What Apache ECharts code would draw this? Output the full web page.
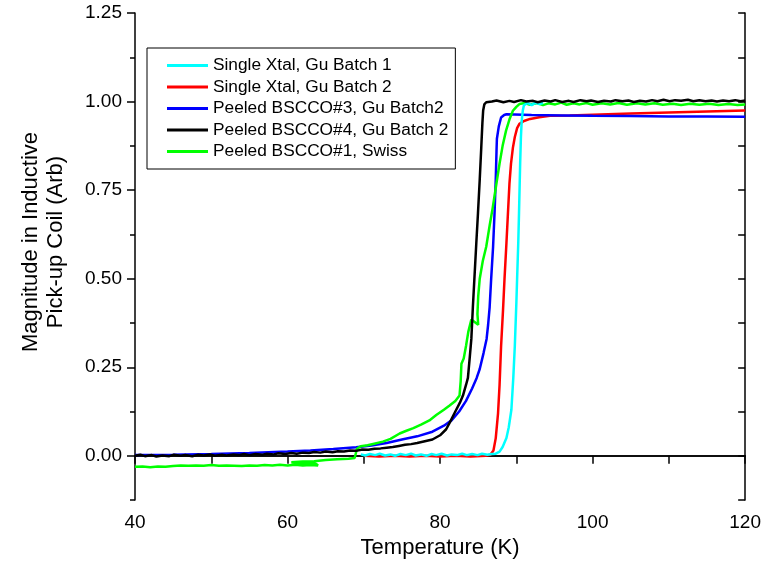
<!DOCTYPE html>
<html>
<head>
<meta charset="utf-8">
<script src="https://cdn.jsdelivr.net/npm/echarts@6/dist/echarts.min.js"></script>
<style>html,body{margin:0;padding:0;background:#fff}#c{width:764px;height:564px}</style>
</head>
<body>
<div id="c"></div>
<script>
const seriesNames = ['Single Xtal, Gu Batch 1','Single Xtal, Gu Batch 2','Peeled BSCCO#3, Gu Batch2','Peeled BSCCO#4, Gu Batch 2','Peeled BSCCO#1, Swiss'];
const seriesColors = ['#00ffff','#ff0000','#0000ff','#000000','#00ff00'];
const yTickLabels = [0, 0.25, 0.5, 0.75, 1.0, 1.25];

const singleXtalGu1 = [[69.6,0.004],[70.2,0.001],[70.8,0.005],[71.5,0.002],[72.1,0.006],[72.8,0.001],[73.5,0.004],[74.1,0.0],[74.8,0.005],[75.5,0.002],[76.2,0.006],[76.8,0.001],[77.5,0.004],[78.2,0.0],[78.9,0.005],[79.5,0.002],[80.2,0.006],[80.9,0.001],[81.5,0.004],[82.2,0.002],[82.9,0.006],[83.5,0.002],[84.2,0.005],[84.9,0.002],[85.5,0.006],[86.2,0.003],[86.8,0.005],[87.3,0.006],[87.8,0.012],[88.2,0.025],[88.7,0.05],[89.0,0.08],[89.35,0.13],[89.6,0.22],[89.8,0.31],[90.0,0.43],[90.1,0.50],[90.25,0.6],[90.35,0.685],[90.5,0.825],[90.6,0.9],[90.7,0.945],[90.85,0.975],[91.0,0.99],[91.5,0.996],[92,0.99],[92.5,0.997],[93,0.993],[93.5,0.996]];

const singleXtalGu2 = [[70,0.0],[72,-0.002],[74,0.0],[76,-0.002],[78,0.0],[80,-0.002],[82,0.0],[84,-0.002],[86,0.0],[86.6,0.003],[87.0,0.015],[87.3,0.05],[87.6,0.12],[87.8,0.2],[88.0,0.31],[88.25,0.41],[88.45,0.50],[88.7,0.6],[88.9,0.685],[89.1,0.77],[89.3,0.825],[89.55,0.87],[89.8,0.90],[90.1,0.925],[90.4,0.937],[91,0.945],[91.8,0.951],[93,0.956],[94.4,0.96],[97,0.961],[100,0.963],[105,0.966],[110,0.969],[115,0.972],[120,0.975]];

const peeled3 = [[40,0.002],[45,0.003],[50,0.005],[55,0.008],[60,0.012],[63,0.015],[66,0.019],[69,0.024],[71,0.029],[73,0.036],[75,0.046],[77,0.055],[79,0.068],[80.5,0.085],[81.5,0.1],[82.5,0.125],[83.4,0.155],[84.2,0.19],[84.8,0.22],[85.2,0.245],[85.7,0.29],[86.1,0.33],[86.3,0.37],[86.5,0.42],[86.7,0.5],[86.95,0.59],[87.15,0.69],[87.3,0.78],[87.4,0.86],[87.45,0.895],[87.6,0.9],[87.7,0.93],[88.0,0.955],[88.4,0.962],[88.7,0.964],[92,0.962],[96,0.961],[100,0.96],[105,0.959],[110,0.958],[115,0.958],[120,0.957]];

const peeled4 = [[40,0.0],[40.7,0.003],[41.3,-0.001],[42.2,0.002],[42.8,-0.002],[43.6,0.001],[44.5,-0.001],[45.1,0.003],[46,0.0],[46.6,0.002],[47.5,-0.001],[48.3,0.003],[49,0.001],[49.8,0.004],[50.5,0.0],[51.4,0.003],[52,0.001],[52.9,0.004],[53.6,0.002],[54.3,0.005],[55,0.002],[55.8,0.005],[56.7,0.003],[57.3,0.006],[58.2,0.004],[58.8,0.007],[59.7,0.005],[60.5,0.008],[61.2,0.006],[62,0.009],[62.8,0.008],[63.5,0.011],[64.3,0.009],[65,0.012],[65.9,0.01],[66.6,0.013],[67.4,0.012],[68.2,0.015],[69,0.014],[69.8,0.018],[70.6,0.017],[71.4,0.02],[72.2,0.021],[73,0.023],[73.8,0.025],[74.6,0.028],[75.4,0.031],[76.2,0.033],[77,0.036],[78,0.041],[79,0.046],[80,0.058],[80.8,0.075],[81.3,0.095],[82,0.125],[82.6,0.15],[83.0,0.17],[83.4,0.2],[83.65,0.22],[83.9,0.28],[84.1,0.33],[84.3,0.42],[84.5,0.5],[84.75,0.6],[84.97,0.685],[85.2,0.78],[85.4,0.87],[85.55,0.94],[85.65,0.975],[85.8,0.992],[86.05,0.998],[86.8,1.0],[87.4,1.003],[88.3,0.998],[89.1,1.002],[89.7,0.999],[90.6,1.004],[91.3,1.0],[92.2,1.002],[92.8,0.998],[93.7,1.003],[94.5,1.0],[95.1,1.004],[96,0.999],[96.9,1.002],[97.5,0.999],[98.4,1.004],[99.2,1.001],[99.8,1.003],[100.7,0.999],[101.5,1.002],[102.4,1.0],[103,1.004],[103.9,1.001],[104.7,1.003],[105.4,0.999],[106.2,1.002],[107,1.0],[107.8,1.004],[108.5,1.001],[109.3,1.005],[110.1,1.001],[110.8,1.004],[111.6,1.002],[112.5,1.005],[113.2,1.001],[114,1.004],[114.8,1.001],[115.6,1.003],[116.3,1.0],[117.1,1.003],[117.9,1.001],[118.7,1.004],[119.4,1.001],[120,1.003]];

const peeled1Swiss = [[40,-0.031],[41,-0.03],[42,-0.032],[43,-0.03],[44,-0.031],[45,-0.029],[46,-0.027],[47,-0.028],[48,-0.027],[49,-0.028],[50,-0.026],[51,-0.028],[52,-0.027],[53,-0.028],[54,-0.029],[55,-0.027],[56,-0.028],[57,-0.026],[58,-0.027],[59,-0.025],[60,-0.027],[61,-0.025],[62,-0.027],[63,-0.026],[64,-0.027],[63.5,-0.02],[62,-0.021],[60.5,-0.018],[62,-0.016],[63.5,-0.015],[65,-0.012],[66.5,-0.01],[68,-0.008],[68.8,-0.006],[69.1,0.02],[69.6,0.027],[70.5,0.03],[71.5,0.035],[72.5,0.04],[73.5,0.048],[74.7,0.063],[75.5,0.07],[76.5,0.078],[77.5,0.088],[78.6,0.1],[79.5,0.115],[80.5,0.13],[81.25,0.142],[82,0.155],[82.55,0.17],[82.7,0.21],[82.8,0.26],[83.1,0.275],[83.4,0.31],[83.7,0.35],[84.1,0.385],[84.4,0.38],[85.0,0.37],[84.9,0.4],[85.0,0.45],[85.2,0.5],[85.6,0.55],[86.05,0.59],[86.5,0.65],[86.9,0.70],[87.4,0.77],[87.8,0.825],[88.2,0.875],[88.65,0.918],[89.1,0.95],[89.55,0.974],[90.0,0.985],[90.4,0.993],[91.1,0.996],[91.8,0.991],[92.7,0.996],[93.5,0.99],[94.2,0.995],[95.1,0.992],[95.9,0.997],[96.6,0.991],[97.5,0.995],[98.3,0.992],[99.2,0.996],[100,0.991],[101.2,0.995],[102.3,0.992],[103.4,0.996],[104.5,0.991],[105.8,0.995],[106.9,0.992],[108.1,0.995],[109.2,0.991],[110.5,0.994],[111.6,0.99],[112.8,0.994],[114,0.991],[115.3,0.994],[116.5,0.99],[117.8,0.993],[119,0.99],[120,0.992]];

const seriesData = [singleXtalGu1, singleXtalGu2, peeled3, peeled4, peeled1Swiss];
const drawOrder = [1, 2, 4, 0, 3];

const FONT = 'Liberation Sans, Arial, sans-serif';
const chart = echarts.init(document.getElementById('c'), null, {renderer: 'canvas'});
const axisLine = {show: true, lineStyle: {color: '#000', width: 1.5}};

const option = {
  animation: false,
  backgroundColor: '#fff',
  grid: {left: 135, right: 18, top: 13, bottom: 61, containLabel: false},
  legend: {
    data: seriesNames,
    orient: 'vertical',
    left: 147, top: 48,
    backgroundColor: '#fff',
    borderColor: '#000', borderWidth: 1, borderRadius: 0,
    padding: [9, 7, 9, 20],
    itemGap: 4.5,
    itemWidth: 41, itemHeight: 3,
    icon: 'rect',
    textStyle: {fontFamily: FONT, fontSize: 17.3, color: '#000', lineHeight: 17}
  },
  xAxis: [
    {type: 'value', position: 'bottom', min: 40, max: 120, interval: 20,
     name: 'Temperature (K)', nameLocation: 'middle', nameGap: 30,
     nameTextStyle: {fontFamily: FONT, fontSize: 22, color: '#000'},
     axisLine: axisLine,
     axisTick: {show: true, inside: false, length: 8, lineStyle: {color: '#000', width: 1.5}},
     minorTick: {show: true, splitNumber: 2, length: 5, lineStyle: {color: '#000', width: 1.5}},
     axisLabel: {fontFamily: FONT, fontSize: 19, color: '#000', margin: 13},
     splitLine: {show: false}},
    {type: 'value', position: 'top', min: 40, max: 120, interval: 10,
     axisLine: axisLine,
     axisTick: {show: true, inside: true, length: 8, lineStyle: {color: '#000', width: 1.5}},
     axisLabel: {show: false}, splitLine: {show: false}}
  ],
  yAxis: [
    {type: 'value', position: 'left', min: -0.125, max: 1.25,
     axisLine: axisLine,
     axisTick: {show: true, inside: false, length: 8, customValues: yTickLabels, lineStyle: {color: '#000', width: 1.5}},
     axisLabel: {fontFamily: FONT, fontSize: 19, color: '#000', margin: 13, customValues: yTickLabels,
                 formatter: v => v.toFixed(2)},
     splitLine: {show: false}},
    {type: 'value', position: 'left', min: -0.125, max: 1.25, interval: 0.125,
     axisLine: {show: false},
     axisTick: {show: true, inside: false, length: 5, lineStyle: {color: '#000', width: 1.5}},
     axisLabel: {show: false}, splitLine: {show: false}},
    {type: 'value', position: 'right', min: -0.125, max: 1.25, interval: 0.125,
     axisLine: axisLine,
     axisTick: {show: true, inside: true, length: 7, lineStyle: {color: '#000', width: 1.5}},
     axisLabel: {show: false}, splitLine: {show: false}}
  ],
  graphic: [{
    type: 'text', x: 43, y: 242, rotation: Math.PI / 2,
    style: {text: 'Magnitude in Inductive\nPick-up Coil (Arb)', fontFamily: FONT, fontSize: 22,
            fill: '#000', align: 'center', verticalAlign: 'middle', lineHeight: 25}
  }],
  series: drawOrder.map((i, k) => ({
    name: seriesNames[i], type: 'line', xAxisIndex: 0, yAxisIndex: 0,
    data: seriesData[i], showSymbol: false, symbol: 'none',
    z: 2 + k,
    lineStyle: {color: seriesColors[i], width: 2.5},
    itemStyle: {color: seriesColors[i]}
  }))
};
chart.setOption(option);
</script>
</body>
</html>
